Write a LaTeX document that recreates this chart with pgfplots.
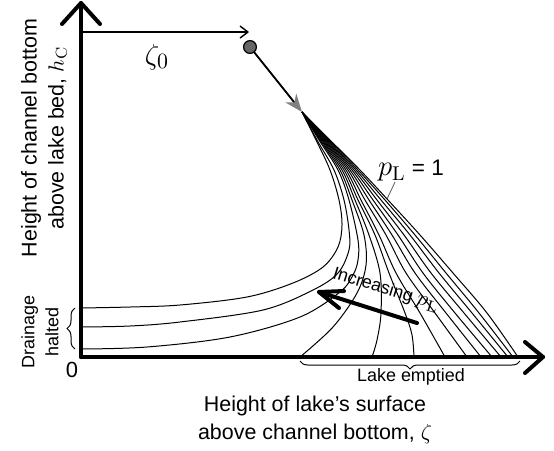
\documentclass[border=0pt]{standalone}
\usepackage[no-math]{fontspec}
\setmainfont{Liberation Sans}
\usepackage{pgfplots}
\pgfplotsset{compat=1.18}
\usetikzlibrary{arrows.meta,decorations.pathreplacing}

\begin{document}
\begin{tikzpicture}
\begin{axis}[
  hide axis, scale only axis,
  width=277bp, height=224bp,
  xmin=-81, xmax=473, ymin=-91, ymax=357,
  clip=false,
  crv/.style={black, line width=0.5bp, smooth, tension=0.55},
]
% drainage halted
\addplot[crv] coordinates {(221,245) (235,217) (249,187) (258,157) (261,132) (257,110) (242,90) (212,74) (166,60) (99,52) (49,50) (0,49)};
\addplot[crv] coordinates {(221,245) (236,217) (253,187) (263,157) (268,127) (268,107) (257,84) (232,67) (182,47) (99,35) (49,31) (0,30)};
\addplot[crv] coordinates {(221,245) (238,217) (257,187) (268,157) (277,117) (277,97) (272,82) (259,65) (219,40) (149,20) (66,10) (0,8)};
% lake emptied
\addplot[crv] coordinates {(221,245) (239,217) (259,187) (271,157) (283,122) (285,92) (276,64) (252,30) (219,0)};
\addplot[crv] coordinates {(221,245) (240,217) (261,187) (274,157) (288,122) (299,84) (300,44) (296,17) (291,0)};
\addplot[crv] coordinates {(221,245) (241,217) (263,187) (277,157) (294,122) (308,84) (324,44) (331,22) (333,0)};
\addplot[crv] coordinates {(221,245) (242,217) (265,187) (280,157) (298,122) (315,84) (339,44) (364,0)};
\addplot[crv] coordinates {(221,245) (243,217) (267,187) (284,157) (305,122) (325,84) (354,44) (386,0)};
\addplot[crv] coordinates {(221,245) (244,217) (269,187) (288,157) (311,122) (334,84) (365,44) (400,0)};
\addplot[crv] coordinates {(221,245) (245,217) (271,187) (292,157) (317,122) (342,84) (374,44) (411,0)};
\addplot[crv] coordinates {(221,245) (246,217) (273,187) (296,157) (323,122) (350,84) (383,44) (420,0)};
\addplot[crv] coordinates {(221,245) (247,217) (275,187) (300,157) (329,122) (358,84) (391,44) (427,0)};
\addplot[crv] coordinates {(221,245) (248,217) (277,187) (304,157) (334,122) (365,84) (398,44) (432,0)};
\addplot[crv] coordinates {(221,245) (249,217) (279,187) (307,157) (339,122) (372,84) (406,44) (437,0)};

% bounding box = reference frame
\path (axis cs:-81,-91) rectangle (axis cs:473,357);

% axes with open heads
\draw[line width=2bp, line cap=round, line join=round] (axis cs:0,0) -- (axis cs:0,354);
\draw[line width=2bp, line cap=round, line join=round] (axis cs:-19,333) -- (axis cs:0,354) -- (axis cs:19,333);
\draw[line width=2bp, line cap=round, line join=round] (axis cs:0,0) -- (axis cs:462,0);
\draw[line width=2bp, line cap=round, line join=round] (axis cs:444,15) -- (axis cs:462,0) -- (axis cs:444,-16);

% start point and initial path
\draw[line width=0.9bp, -{Stealth[length=9bp,width=7bp,color=gray]}] (axis cs:169,310) -- (axis cs:221,245);
\fill[gray!80!black, draw=black, line width=0.6bp] (axis cs:169,310) circle[radius=3.2bp];

% zeta_0
\draw[line width=0.7bp] (axis cs:0,325) -- (axis cs:167,325);
\draw[line width=0.7bp, line join=round] (axis cs:159,331) -- (axis cs:167,325) -- (axis cs:159,319);
\node[font=\fontsize{15}{17}\selectfont] at (axis cs:76,300) {$\zeta_0$};

% p_L = 1
\draw[line width=0.4bp, gray!70!black] (axis cs:314,175) -- (axis cs:306,158);
\node[font=\fontsize{11.3}{13}\selectfont] at (axis cs:330,186) {{\fontsize{14}{16}\selectfont$p_{\mathrm{L}}$} = 1};

% increasing p_L
\draw[line width=2bp, line cap=round] (axis cs:336,34) -- (axis cs:238,65);
\draw[line width=2bp, line cap=round, line join=round] (axis cs:263,66) -- (axis cs:238,65) -- (axis cs:258,49);
\node[rotate=-17, font=\fontsize{9}{11}\selectfont] at (axis cs:305,67) {Increasing {\fontsize{11}{13}\selectfont$p_{\mathrm{L}}$}};

% braces
\draw[line width=0.5bp, decorate, decoration={brace, amplitude=4bp}] (axis cs:-6,8) -- (axis cs:-6,49);
\node[rotate=90, align=center, font=\fontsize{9}{12}\selectfont] at (axis cs:-41,25) {Drainage\\halted};
\draw[line width=0.5bp, decorate, decoration={brace, amplitude=4bp}] (axis cs:439,-4) -- (axis cs:219,-4);
\node[font=\fontsize{9}{11}\selectfont] at (axis cs:330,-20) {Lake emptied};

% origin
\node[font=\fontsize{11}{13}\selectfont] at (axis cs:-9,-13) {0};

% axis titles
\node[rotate=90, align=center, font=\fontsize{10.75}{13.5}\selectfont] at (axis cs:-37,219) {Height of channel bottom\\above lake bed, $h_{\mathrm{C}}$};
\node[align=center, font=\fontsize{10.75}{14}\selectfont] at (axis cs:234,-63) {Height of lake’s surface\\above channel bottom, $\zeta$};
\end{axis}
\end{tikzpicture}
\end{document}
